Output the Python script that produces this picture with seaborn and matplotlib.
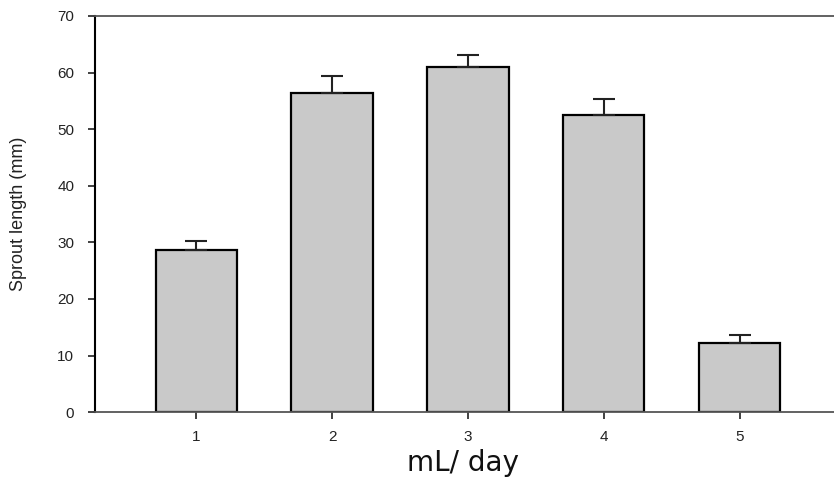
import pandas as pd
import numpy as np
import matplotlib
matplotlib.use("Agg")
import matplotlib.pyplot as plt
import seaborn as sns

# data
doses = ['1', '2', '3', '4', '5']
sprout_len = [28.6, 56.4, 61.0, 52.5, 12.2]
sprout_err = [1.6, 3.0, 2.1, 2.8, 1.4]

df = pd.DataFrame({'dose': doses, 'length': sprout_len, 'err': sprout_err})

sns.set_style("white")
plt.rcParams['font.family'] = ['Liberation Sans', 'DejaVu Sans']

fig = plt.figure(figsize=(8.34, 4.82), dpi=100)
ax = fig.add_axes([0.114, 0.145, 0.89, 0.822])

sns.barplot(data=df, x='dose', y='length', color='#c9c9c9', saturation=1,
            edgecolor='black', linewidth=1.6, width=0.6, errorbar=None, ax=ax)

# upper error bars only
ax.errorbar(np.arange(len(doses)), df['length'],
            yerr=[np.zeros(len(doses)), df['err']],
            fmt='none', ecolor='#222222', elinewidth=1.5, capsize=8, capthick=1.5)

ax.set_ylim(0, 70)
ax.set_xlim(-0.745, 4.72)
ax.set_yticks(range(0, 71, 10))

for s in ['top', 'bottom']:
    ax.spines[s].set_color('#555555')
    ax.spines[s].set_linewidth(1.3)
ax.spines['left'].set_color('black')
ax.spines['left'].set_linewidth(1.5)
ax.spines['right'].set_visible(False)

ax.tick_params(axis='both', direction='out', length=5, width=1.3, color='#333333',
               labelsize=11, labelcolor='#222222', left=True, bottom=True)
ax.tick_params(axis='y', pad=10)
ax.tick_params(axis='x', pad=8)

ax.set_ylabel('Sprout length (mm)', fontsize=13, color='#222222')
ax.yaxis.set_label_coords(-0.092, 0.5)
ax.set_xlabel('mL/ day', fontsize=20, color='#111111', family=['DejaVu Sans'])
ax.xaxis.set_label_coords(0.495, -0.092)

fig.savefig('out.png', dpi=100)
